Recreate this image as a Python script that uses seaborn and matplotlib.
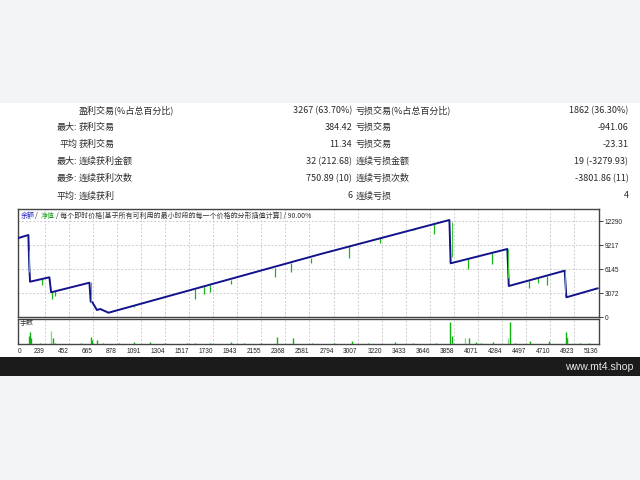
import numpy as np
import pandas as pd
import matplotlib
matplotlib.use("Agg")
import matplotlib.pyplot as plt
from matplotlib.patches import Rectangle
import seaborn as sns

# ---------------- data ----------------
row_prefix = ["", "最大:", "平均", "最大:", "最多:", "平均:"]
win_labels = ["盈利交易(%占总百分比)", "获利交易", "获利交易", "连续获利金额", "连续获利次数", "连续获利"]
win_values = ["3267 (63.70%)", "384.42", "11.34", "32 (212.68)", "750.89 (10)", "6"]
loss_labels = ["亏损交易(%占总百分比)", "亏损交易", "亏损交易", "连续亏损金额", "连续亏损次数", "连续亏损"]
loss_values = ["1862 (36.30%)", "-941.06", "-23.31", "19 (-3279.93)", "-3801.86 (11)", "4"]

# balance curve breakpoints (trade number, balance)
bal_trade = [0, 96, 104, 111, 282, 297, 636, 647, 660, 702, 731, 805,
             2681, 3818, 3829, 4330, 4343, 4837, 4852, 5129]
bal_value = [10090, 10510, 6500, 4546, 5108, 3193, 4418, 1992, 1954, 932, 1060, 587,
             8083, 12425, 6896, 8722, 3997, 5951, 2554, 3703]

# equity dips below balance
spike_trade = [214, 303, 332, 1026, 1573, 1653, 1700, 1883, 2273, 2421, 2592,
               2932, 3207, 3508, 3685, 3981, 4194, 4518, 4602, 4678]
spike_top = [4891, 3231, 3359, 1471, 3659, 3979, 4167, 4771, 6331, 6923, 7607,
             9042, 10093, 11240, 11916, 7449, 8227, 4690, 5022, 5323]
spike_low = [4125, 2337, 2720, 1315, 2337, 2975, 3231, 4252, 5185, 5823, 6934,
             7534, 9488, 11140, 10599, 6130, 6768, 3703, 4380, 4125]

# equity at the big drops
drop_trade = [104, 649, 3837, 4336, 4839]
drop_top = [8594, 4508, 12170, 8722, 5912]
drop_low = [5785, 1954, 7739, 5057, 3065]

# lots panel
vol_trade = [98, 111, 120, 315, 649, 660, 702, 1033, 1174, 1573, 1883, 2297, 2439,
             2953, 3337, 3827, 3842, 3995, 4055, 4205, 4353, 4527, 4699, 4846, 4861, 4970,
             200, 330, 560, 760, 900, 1300, 1500, 1700, 2000, 2150, 2600, 2800, 3100,
             3500, 3700, 4100, 4400, 5050]
vol_lots = [8, 12, 6, 6, 7, 4, 4, 2, 2, 1.5, 2, 7, 6,
            3, 2, 22, 8, 6, 2, 2, 22, 3, 3, 12, 6, 1,
            1, 1, 1, 1, 1, 1, 1, 1, 1, 1, 1, 1, 1,
            1, 1, 1, 1, 1]
vol_light_trade = [297, 3957, 4336, 4855]
vol_light_lots = [13, 6, 6, 7]

x_ticks = [0, 239, 452, 665, 878, 1091, 1304, 1517, 1730, 1943, 2155, 2368, 2581,
           2794, 3007, 3220, 3433, 3646, 3858, 4071, 4284, 4497, 4710, 4923, 5136]
y_ticks = [0, 3072, 6145, 9217, 12290]
y_tick_labels = ["0", "3072", "6145", "9217", "12290"]

# ---------------- style ----------------
sns.set_style("white")
plt.rcParams['font.family'] = ['Noto Sans CJK SC', 'DejaVu Sans']

W, H = 640, 480
fig = plt.figure(figsize=(6.4, 4.8), dpi=100)
fig.patch.set_facecolor('#f3f4f6')

def fx(x):
    return x / W

def fy(y):
    return 1 - y / H

fig.patches.append(Rectangle((0, fy(357)), 1, 254 / H, transform=fig.transFigure,
                             facecolor='white', edgecolor='none', zorder=-10))
fig.patches.append(Rectangle((0, fy(376)), 1, 19 / H, transform=fig.transFigure,
                             facecolor='#1b1b1b', edgecolor='none', zorder=-10))
fig.text(fx(633), fy(366.5), "www.mt4.shop", ha='right', va='center', color='#e6e6e6',
         fontsize=7.6, family=['Liberation Sans', 'DejaVu Sans'])

# stats table
text_col = '#2a2a2a'
fs_tab = 6.5
row_y = [110.7, 127.5, 144.5, 161.7, 178.7, 196]
for i, yy in enumerate(row_y):
    if row_prefix[i]:
        fig.text(fx(77), fy(yy), row_prefix[i], ha='right', va='center', fontsize=fs_tab, color=text_col)
    fig.text(fx(78.5), fy(yy), win_labels[i], ha='left', va='center', fontsize=fs_tab, color=text_col)
    fig.text(fx(352), fy(yy), win_values[i], ha='right', va='center', fontsize=fs_tab, color=text_col)
    fig.text(fx(355.5), fy(yy), loss_labels[i], ha='left', va='center', fontsize=fs_tab, color=text_col)
    fig.text(fx(628.5), fy(yy), loss_values[i], ha='right', va='center', fontsize=fs_tab, color=text_col)

# ---------------- axes ----------------
left, right = 17.5, 598.5
ax = fig.add_axes([fx(left), fy(317.3), (right - left) / W, (317.3 - 209) / H])
axv = fig.add_axes([fx(left), fy(344), (right - left) / W, 25 / H])

grid_kw = dict(color='#c4c4c4', lw=0.6, ls=(0, (2.2, 2.2)))
for a in (ax, axv):
    a.set_facecolor('white')
    for s in a.spines.values():
        s.set_color('#444444')
        s.set_linewidth(1.0)
    a.set_xlim(0, 5136)
    a.set_xticks(x_ticks)
    a.grid(True, axis='x', **grid_kw)
    a.set_axisbelow(True)

ax.set_ylim(0, 13830)
ax.set_yticks(y_ticks)
ax.set_yticklabels(y_tick_labels)
ax.grid(True, axis='y', **grid_kw)
ax.yaxis.tick_right()
ax.tick_params(axis='y', direction='out', length=3, width=0.6, pad=1.5,
               labelsize=4.7, colors='#222222')
ax.tick_params(axis='x', length=0, labelbottom=False)
for lbl in ax.get_yticklabels():
    lbl.set_fontfamily(['Liberation Sans', 'DejaVu Sans'])

# equity dips (under the balance line)
ax.vlines(spike_trade, spike_low, spike_top, color='#18b418', lw=0.9, zorder=2)

bal_df = pd.DataFrame({"trade": bal_trade, "balance": bal_value})
sns.lineplot(data=bal_df, x="trade", y="balance", ax=ax, estimator=None, sort=False,
             color='#12128c', lw=1.4, zorder=3)
ax.vlines(drop_trade, drop_low, drop_top, color='#3cc83c', lw=0.8, zorder=4)
ax.set_xlabel("")
ax.set_ylabel("")

# chart caption
cap_y = fy(215.7)
fig.text(fx(20.7), cap_y, "余额", color='#2020c8', fontsize=5, va='center', ha='left')
fig.text(fx(36.7), cap_y, "/", color='#333333', fontsize=5, va='center', ha='center')
fig.text(fx(40.7), cap_y, "净值", color='#20a020', fontsize=5, va='center', ha='left')
fig.text(fx(55.5), cap_y, "/ 每个即时价格[基于所有可利用的最小时段的每一个价格的分形插值计算] / 90.00%",
         color='#333333', fontsize=5, va='center', ha='left')

# lots panel
axv.set_ylim(0, 25)
axv.set_yticks([])
axv.vlines(vol_light_trade, 0, vol_light_lots, color='#8ed88e', lw=1.0, zorder=2)
axv.vlines(vol_trade, 0, vol_lots, color='#10b010', lw=1.0, zorder=3)
axv.set_xticklabels([str(t) for t in x_ticks])
axv.tick_params(axis='x', direction='out', length=2, width=0.6, pad=1,
                labelsize=4.7, colors='#222222')
for i, lbl in enumerate(axv.get_xticklabels()):
    lbl.set_fontfamily(['Liberation Sans', 'DejaVu Sans'])
    lbl.set_ha('left' if i == 0 else 'right')
fig.text(fx(20), fy(323), "手数", color='#333333', fontsize=5, va='center', ha='left')

fig.savefig("out.png", dpi=100, facecolor=fig.get_facecolor())
